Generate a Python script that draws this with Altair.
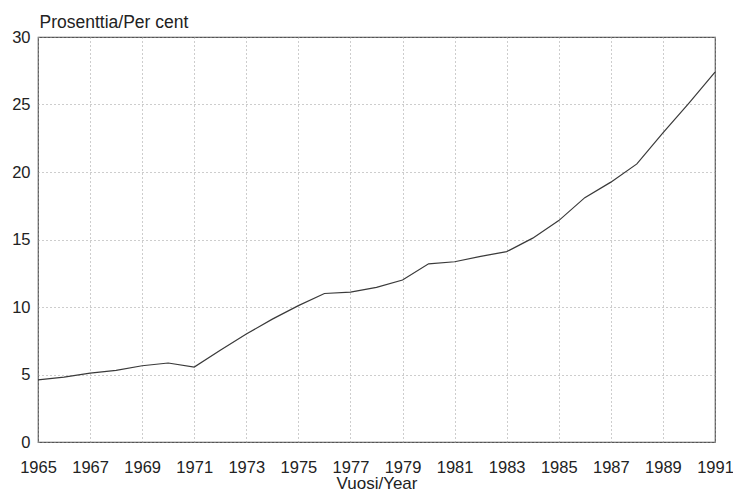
import altair as alt
import pandas as pd

years = list(range(1965, 1992))
percent = [4.6, 4.8, 5.1, 5.3, 5.65, 5.85, 5.55, 6.8, 8.0, 9.1, 10.1, 11.0, 11.1, 11.45,
           12.0, 13.2, 13.35, 13.75, 14.1, 15.1, 16.4, 18.1, 19.25, 20.6, 22.9, 25.1, 27.4]
x_ticks = list(range(1965, 1992, 2))
y_ticks = [0, 5, 10, 15, 20, 25, 30]

df = pd.DataFrame({"year": years, "pct": percent})

FONT = "Liberation Sans, Arial, Helvetica"

chart = alt.Chart(df).mark_line(color="#3a3a3a", strokeWidth=1.2).encode(
    x=alt.X("year:Q",
            scale=alt.Scale(domain=[1965, 1991], nice=False, zero=False),
            axis=alt.Axis(values=x_ticks, format="d", title="Vuosi/Year",
                          labelFlush=False, ticks=False, domain=False,
                          labelBaseline="alphabetic", labelPadding=30,
                          titleBaseline="alphabetic", titleY=46, titleFontSize=17)),
    y=alt.Y("pct:Q",
            scale=alt.Scale(domain=[0, 30], nice=False),
            axis=alt.Axis(values=y_ticks, title="Prosenttia/Per cent",
                          ticks=False, domain=False, labelPadding=8,
                          titleAngle=0, titleAlign="left", titleBaseline="alphabetic",
                          titleX=1, titleY=-10, titleFontSize=17.5)),
).properties(
    width=677, height=405,
    autosize=alt.AutoSizeParams(type="none"),
    padding={"left": 30, "top": 29, "right": 18, "bottom": 50},
).configure(
    background="white"
).configure_view(
    stroke="#555555", strokeWidth=1.2
).configure_axis(
    labelFont=FONT, titleFont=FONT, labelFontSize=16.5,
    labelColor="#222222", titleColor="#222222", titleFontWeight="normal",
    grid=True, gridColor="#9a9a9a", gridDash=[1, 3], gridWidth=1,
)

chart.save("out.html", embed_options={"renderer": "svg", "actions": False})
